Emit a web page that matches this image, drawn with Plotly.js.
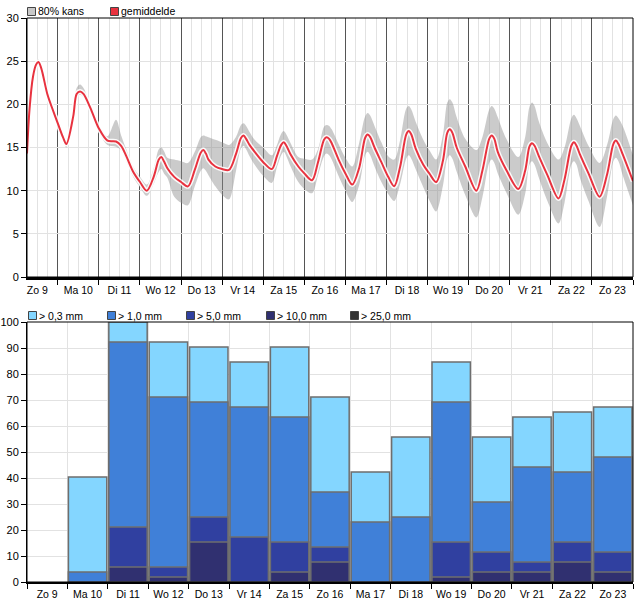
<!DOCTYPE html>
<html><head><meta charset="utf-8">
<script src="https://cdn.plot.ly/plotly-3.0.1.min.js"></script>
<style>html,body{margin:0;padding:0;background:#fff}#chart{width:638px;height:600px}</style>
</head><body><div id="chart"></div>
<script>
// ---- data ----
const dayLabels = ['Zo 9','Ma 10','Di 11','Wo 12','Do 13','Vr 14','Za 15','Zo 16','Ma 17','Di 18','Wo 19','Do 20','Vr 21','Za 22','Zo 23'];

// hours since Zo 9 00:00
const hours = [6, 7.5, 9.5, 11.3, 12.7, 14.3, 18, 21, 24, 27, 29, 33, 35, 37, 39, 43, 48, 53, 58, 61, 64, 68, 72, 76, 80, 83, 84.5, 86, 88, 92, 96, 100, 104, 107.5, 109, 110.5, 112, 116, 120, 124, 128, 131, 132.5, 134, 136, 139, 144, 149, 152, 154.5, 156, 157.5, 160, 164.5, 168, 172.5, 176, 179.5, 181, 182.5, 184, 188, 192, 196, 200, 203.5, 205, 206.5, 209, 213, 217, 220.5, 224, 227.5, 229, 230.5, 233, 237.5, 241, 245, 249, 251.5, 253, 254.5, 257, 262, 268.5, 272, 276, 277.5, 279, 281, 286, 293, 297, 299.5, 301, 302.5, 305, 310, 316.5, 320, 324, 325.5, 327, 329, 334, 340.5, 345, 348.5, 350, 351.5, 354, 360];
const tMean = [14.3, 19.5, 23.2, 24.6, 24.9, 24.2, 21.1, 19.4, 17.8, 16.2, 15.4, 18.6, 21.2, 21.5, 21.2, 19.6, 17.2, 15.8, 15.7, 15.2, 14.0, 12.2, 11.0, 10.0, 11.6, 13.6, 13.9, 13.4, 12.6, 11.6, 11.0, 10.5, 12.4, 14.4, 14.7, 14.3, 13.6, 12.8, 12.5, 12.4, 14.2, 16.1, 16.4, 16.0, 15.3, 14.5, 13.3, 12.5, 14.0, 15.3, 15.6, 15.2, 14.2, 12.8, 12.0, 11.2, 13.3, 15.9, 16.2, 16.0, 15.5, 13.6, 12.0, 10.7, 12.6, 16.1, 16.5, 16.2, 15.0, 13.3, 11.6, 10.5, 12.8, 16.5, 16.9, 16.5, 14.9, 13.0, 12.0, 11.0, 13.5, 16.7, 17.1, 16.7, 15.0, 12.8, 10.0, 12.3, 16.0, 16.4, 16.0, 14.5, 12.4, 10.2, 12.3, 15.1, 15.5, 15.2, 14.0, 11.8, 9.1, 11.3, 15.2, 15.6, 15.2, 14.2, 12.0, 9.3, 12.0, 15.4, 15.8, 15.4, 14.2, 11.1];
const tLow = [14.0, 19.2, 22.9, 24.3, 24.6, 23.9, 20.8, 19.1, 17.5, 15.9, 15.0, 18.3, 20.8, 21.1, 20.8, 19.2, 16.8, 15.3, 15.1, 14.7, 13.4, 11.6, 10.4, 9.4, 10.8, 12.2, 12.5, 12.0, 11.5, 9.3, 8.6, 8.3, 10.5, 12.3, 12.6, 12.3, 11.8, 10.5, 9.5, 9.0, 12.2, 14.9, 15.2, 14.8, 14.0, 13.0, 11.7, 10.9, 12.7, 14.1, 14.5, 14.0, 12.8, 11.0, 10.2, 9.7, 11.8, 14.0, 14.3, 14.1, 13.6, 11.7, 10.0, 8.7, 10.6, 14.1, 14.5, 14.1, 12.8, 11.0, 9.6, 8.8, 10.8, 13.7, 14.1, 13.7, 12.5, 10.4, 8.9, 7.6, 10.6, 13.7, 14.1, 13.7, 12.2, 9.5, 6.9, 9.2, 13.2, 13.6, 13.2, 12.0, 9.8, 7.2, 9.6, 13.0, 13.4, 13.0, 11.5, 8.8, 6.2, 8.6, 13.0, 13.4, 13.0, 11.5, 8.8, 5.8, 9.5, 13.4, 13.8, 13.4, 11.8, 8.3];
const tHigh = [14.6, 19.8, 23.5, 24.9, 25.2, 24.5, 21.4, 19.7, 18.1, 16.5, 15.8, 19.0, 21.9, 22.3, 21.9, 20.0, 17.6, 16.3, 18.2, 16.4, 14.8, 12.8, 11.6, 10.7, 12.6, 14.8, 15.0, 14.6, 13.8, 13.6, 13.4, 13.2, 14.5, 16.2, 16.4, 16.3, 16.2, 15.9, 15.6, 15.3, 16.2, 17.6, 17.8, 17.5, 16.8, 15.9, 15.0, 14.1, 15.3, 16.6, 16.9, 16.5, 15.5, 13.9, 13.7, 13.6, 14.8, 17.4, 17.6, 17.5, 17.1, 15.4, 13.8, 12.8, 15.5, 18.6, 19.0, 18.7, 17.5, 15.6, 14.0, 13.6, 15.9, 19.5, 19.8, 19.4, 18.0, 15.9, 14.7, 13.6, 16.5, 20.2, 20.6, 20.2, 18.5, 16.0, 14.7, 16.2, 19.4, 19.8, 19.5, 18.5, 16.0, 13.9, 16.2, 19.7, 20.2, 19.8, 18.0, 15.5, 13.6, 15.0, 18.4, 18.8, 18.4, 17.5, 15.2, 13.2, 15.4, 18.3, 18.7, 18.4, 17.5, 14.1];

// precipitation probability (%) per day
const rain03 = [0, 40.4, 100, 92.3, 90.4, 84.6, 90.4, 71.2, 42.3, 55.8, 84.6, 55.8, 63.5, 65.4, 67.3];
const rain10 = [0, 3.8, 92.3, 71.2, 69.2, 67.3, 63.5, 34.6, 23.1, 25.0, 69.2, 30.8, 44.2, 42.3, 48.1];
const rain50 = [0, 0, 21.2, 5.8, 25.0, 17.3, 15.4, 13.5, 0, 0, 15.4, 11.5, 7.7, 15.4, 11.5];
const rain100 = [0, 0, 5.8, 1.9, 15.4, 0, 3.8, 7.7, 0, 0, 1.9, 3.8, 3.8, 7.7, 3.8];
const rain250 = [0, 0, 0, 0, 0, 0, 0, 0, 0, 0, 0, 0, 0, 0, 0];

const tempNames = ['80% kans', 'gemiddelde'];
const tempColors = ['#c8c8c8', '#e8323f'];
const rainNames = ['> 0,3 mm', '> 1,0 mm', '> 5,0 mm', '> 10,0 mm', '> 25,0 mm'];
const rainColors = ['#84d6ff', '#4080d8', '#3040a0', '#303070', '#333333'];
const rainSeries = [rain03, rain10, rain50, rain100, rain250];

// ---- build ----
const FONT = 'Liberation Sans, Arial, sans-serif';
const NARROW = 'Liberation Sans Narrow, Arial Narrow, Liberation Sans, Arial, sans-serif';
const ML = 27, PW = 606, MB = 18, PH = 564;
const px2x = p => (p - ML) / PW;
const px2y = p => (600 - MB - p) / PH;

const dayIdx = dayLabels.map((d, i) => i);
const topTickVals = [], topTickText = [];
dayIdx.forEach(i => {
  [6, 12, 18].forEach(o => { topTickVals.push(i * 24 + o); topTickText.push(o === 12 ? dayLabels[i] : ''); });
});

const SM = 0.9;
const traces = [];
traces.push({x: hours, y: tLow, type: 'scatter', mode: 'lines', line: {width: 0, shape: 'spline', smoothing: SM}, hoverinfo: 'skip', showlegend: false, xaxis: 'x', yaxis: 'y'});
traces.push({x: hours, y: tHigh, type: 'scatter', mode: 'lines', name: tempNames[0], fill: 'tonexty', fillcolor: 'rgba(140,140,140,0.45)', line: {width: 0, shape: 'spline', smoothing: SM}, showlegend: false, xaxis: 'x', yaxis: 'y'});
traces.push({x: hours, y: tMean, type: 'scatter', mode: 'lines', line: {color: 'rgba(255,255,255,0.9)', width: 5, shape: 'spline', smoothing: SM}, hoverinfo: 'skip', showlegend: false, xaxis: 'x', yaxis: 'y'});
traces.push({x: hours, y: tMean, type: 'scatter', mode: 'lines', name: tempNames[1], line: {color: tempColors[1], width: 2, shape: 'spline', smoothing: SM}, showlegend: false, xaxis: 'x', yaxis: 'y'});

rainSeries.forEach((s, k) => {
  traces.push({
    x: dayIdx, y: s.map(v => v > 0 ? v : null), type: 'bar', name: rainNames[k], width: 0.95,
    marker: {color: rainColors[k], line: {color: '#6e6e6e', width: 1.5}},
    xaxis: 'x2', yaxis: 'y2', showlegend: false
  });
});

const shapes = [
  {type: 'rect', xref: 'x domain', yref: 'y domain', x0: 0, x1: 1, y0: 0, y1: 1, line: {color: '#000', width: 1}, fillcolor: 'rgba(0,0,0,0)', layer: 'above'},
  {type: 'rect', xref: 'x2 domain', yref: 'y2 domain', x0: 0, x1: 1, y0: 0, y1: 1, line: {color: '#000', width: 1}, fillcolor: 'rgba(0,0,0,0)', layer: 'above'}
];
const annotations = [];

// legend rows (swatch + label), laid out like the reference
function legendRow(names, colors, textXs, textY) {
  names.forEach((n, k) => {
    const tx = textXs[k];
    shapes.push({type: 'rect', xref: 'paper', yref: 'paper', x0: px2x(tx - 10.5), x1: px2x(tx - 2.5), y0: px2y(textY + 4), y1: px2y(textY - 4),
      fillcolor: colors[k], line: {color: '#444', width: 1}, layer: 'above'});
    annotations.push({xref: 'paper', yref: 'paper', x: px2x(tx - 2), y: px2y(textY), xanchor: 'left', yanchor: 'middle',
      text: n, showarrow: false, font: {family: FONT, size: 10.5, color: '#000'}});
  });
}
legendRow(tempNames, tempColors, [38, 121], 11.5);
legendRow(rainNames, rainColors, [39, 118, 197, 277, 361], 315.5);

const layout = {
  width: 638, height: 600,
  margin: {l: ML, r: 5, t: 18, b: MB, autoexpand: false},
  paper_bgcolor: '#fff', plot_bgcolor: '#fff',
  barmode: 'overlay', bargap: 0.05, showlegend: false,
  font: {family: FONT, size: 11, color: '#000'},
  xaxis: {
    domain: [0, 1], anchor: 'y', range: [6, 360], tickmode: 'array', tickvals: topTickVals, ticktext: topTickText,
    ticks: 'outside', ticklen: 1, tickcolor: 'rgba(0,0,0,0)', showgrid: true, gridcolor: '#e2e2e2', gridwidth: 1,
    minor: {tickmode: 'linear', tick0: 0, dtick: 24, ticks: 'outside', ticklen: 5, tickcolor: '#000', showgrid: true, gridcolor: '#555', gridwidth: 1},
    showline: true, linecolor: '#000', linewidth: 3, zeroline: false, fixedrange: true,
    tickfont: {family: NARROW, size: 10.5, color: '#000'}
  },
  yaxis: {
    domain: [px2y(277), 1], anchor: 'x', range: [0, 30], tickmode: 'linear', tick0: 0, dtick: 5,
    ticks: 'outside', ticklen: 5, tickcolor: '#000', showgrid: true, gridcolor: '#e2e2e2',
    showline: true, linecolor: '#000', linewidth: 1, zeroline: false, fixedrange: true,
    tickfont: {family: FONT, size: 11, color: '#000'}
  },
  xaxis2: {
    domain: [0, 1], anchor: 'y2', range: [-0.5, 14.5], tickmode: 'array', tickvals: dayIdx, ticktext: dayLabels,
    ticks: 'outside', ticklen: 1, tickcolor: 'rgba(0,0,0,0)', showgrid: false,
    minor: {tickmode: 'linear', tick0: 0.5, dtick: 1, ticks: 'outside', ticklen: 5, tickcolor: '#000', showgrid: true, gridcolor: '#e2e2e2', gridwidth: 1},
    showline: true, linecolor: '#000', linewidth: 2, zeroline: false, fixedrange: true,
    tickfont: {family: NARROW, size: 10.5, color: '#000'}
  },
  yaxis2: {
    domain: [0, px2y(322)], anchor: 'x2', range: [0, 100], tickmode: 'linear', tick0: 0, dtick: 10,
    ticks: 'outside', ticklen: 5, tickcolor: '#000', showgrid: true, gridcolor: '#e2e2e2',
    showline: true, linecolor: '#000', linewidth: 1, zeroline: false, fixedrange: true,
    tickfont: {family: FONT, size: 11, color: '#000'}
  },
  shapes: shapes,
  annotations: annotations,
  hovermode: false
};

Plotly.newPlot('chart', traces, layout, {displayModeBar: false, staticPlot: true});
</script>
</body></html>
